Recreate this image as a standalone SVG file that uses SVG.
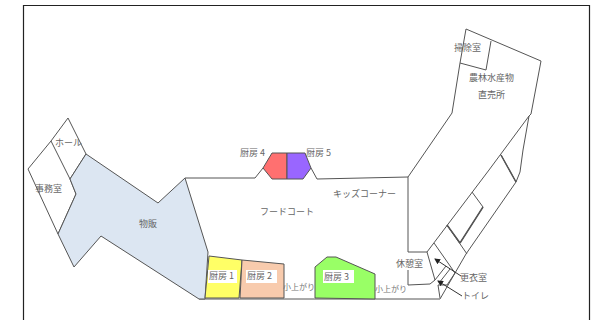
<svg xmlns="http://www.w3.org/2000/svg" width="594" height="320" viewBox="0 0 594 320">
<style>
.w{fill:none;stroke:#555;stroke-width:1}
.r{stroke:#555;stroke-width:1}
text{font-family:"Noto Sans CJK JP","Noto Sans",sans-serif;font-size:9px;fill:#666}
.s{font-size:8px;fill:#777}
.a{stroke:#333;stroke-width:1;fill:none;marker-end:url(#ah)}
</style>
<defs><marker id="ah" markerUnits="userSpaceOnUse" markerWidth="6" markerHeight="6" refX="5" refY="3" orient="auto"><path d="M0 0L6 3L0 6Z" fill="#222"/></marker></defs>
<rect width="594" height="320" fill="#fff"/>
<path d="M23.5 320V5.5H589.5V320" fill="none" stroke="#222" stroke-width="1.2"/>
<g id="connectors">
<path class="w" d="M185 178H255L263 168M311 168L317 179L408 177M199 299H440L466 254L516 182L520 172L523 150L529 116L489 170L427 252H408M408 177V252M408 270V285L430 284L435 280L427 252"/>
<path class="w" d="M408 177L452 113L460 63L466 29L541 61L531 114L529 116"/>
<path class="w" d="M460 63L486 70L491 41"/>
<path class="w" d="M501 155L516 182M472 192L483 207L460 243M447 225L460 243M447 225L467 254M434 243L455 273L447 285H438L440 298M435 280L446 266M439 283L450 269"/>
<path class="w" style="stroke-width:1.5" d="M447 225L460 243M483 207L460 243M501 155L516 182"/>
<path class="a" d="M461 276L435 259"/>
<path class="a" d="M462 296L438 281"/>
</g>
<g id="office"><path class="w" d="M51 141L28 169L58 234L76 194L70 179L51 141"/><text x="35" y="192">事務室</text></g>
<g id="hall"><path class="w" d="M51 141L68 118L86 154L70 179"/><text x="55" y="146">ホール</text></g>
<g id="sales"><path class="r" fill="#dce6f2" d="M86 154L158 203L185 178L208 252L205 299H199L101 236L74 267L58 234L76 194L70 179Z"/><text x="139" y="227">物販</text></g>
<g id="k1"><path class="r" fill="#ffff66" d="M209 256L242 260L239 298L205 298Z"/><rect x="208" y="270" width="29" height="13" fill="#fff"/><text x="209" y="279">厨房 1</text></g>
<g id="k2"><path class="r" fill="#f8cbad" d="M242 260L284 264V298H240Z"/><rect x="246" y="270" width="31" height="13" fill="#fff"/><text x="247" y="279">厨房 2</text></g>
<g id="k3"><path class="r" fill="#99ff66" d="M315 267L327 257H336L375 274V299L315 298Z"/><rect x="323" y="270" width="31" height="13" fill="#fff"/><text x="324" y="280">厨房 3</text></g>
<g id="k4"><path class="r" fill="#ff7070" d="M272 153H287V179H272L263 168Z"/><text x="240" y="156">厨房 4</text></g>
<g id="k5"><path class="r" fill="#9966ff" d="M287 153H305L311 168L303 179H287Z"/><text x="306" y="156">厨房 5</text></g>
<g id="food"><text x="260" y="215">フードコート</text></g>
<g id="kids"><text x="333" y="197">キッズコーナー</text></g>
<g id="agari1"><text class="s" x="283" y="290">小上がり</text></g>
<g id="agari2"><text class="s" x="375" y="292">小上がり</text></g>
<g id="rest"><rect x="395" y="256" width="27" height="14" fill="#fff"/><text x="396" y="267">休憩室</text></g>
<g id="cleaning"><text x="454" y="51">掃除室</text></g>
<g id="market"><text x="469" y="81">農林水産物</text><text x="478" y="98">直売所</text></g>
<g id="locker"><text x="460" y="281">更衣室</text></g>
<g id="toilet"><text x="462" y="299">トイレ</text></g>
</svg>
